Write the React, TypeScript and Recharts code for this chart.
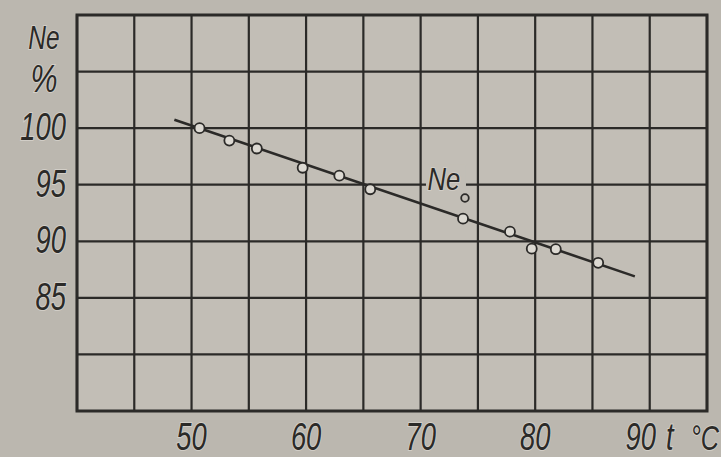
import React from "react";
import {
  ScatterChart,
  Scatter,
  XAxis,
  YAxis,
  CartesianGrid,
  ReferenceArea,
  ReferenceDot,
} from "recharts";

// measured points: temperature t (°C) and effective power Ne (%)
const tempC = [50.7, 53.3, 55.7, 59.7, 62.9, 65.6, 73.7, 77.8, 79.7, 81.8, 85.5];
const nePct = [100.0, 98.9, 98.2, 96.5, 95.8, 94.6, 92.0, 90.85, 89.35, 89.3, 88.1];

// fitted straight line
const fitT = [48.5, 88.7];
const fitNe = [100.75, 86.9];

// axes
const xTicks = [40, 45, 50, 55, 60, 65, 70, 75, 80, 85, 90, 95];
const xTickLabels = ["", "", "50", "", "60", "", "70", "", "80", "", "90", ""];
const xUnitLabels = ["t", "°C"];
const yTicks = [75, 80, 85, 90, 95, 100, 105, 110];
const yTickLabels = ["", "", "85", "90", "95", "100", "%", "Ne"];

// curve annotation
const curveLabel = { t: 72.3, ne: 94.8, main: "Ne", sub: "o" };

const points = tempC.map((t, i) => ({ t, ne: nePct[i] }));
const fitLine = fitT.map((t, i) => ({ t, ne: fitNe[i] }));

const INK = "#2b2a28";
const BG = "#bbb7af";
const PLOT_BG = "#c2beb6";
const HALO = "#d2cec7";
const FONT = "'Liberation Sans', Arial, sans-serif";

const textStyle: React.CSSProperties = {
  fontFamily: FONT,
  fontStyle: "italic",
};

const NarrowText = ({
  x,
  y,
  children,
  size,
  anchor,
  sx = 0.72,
}: {
  x: number;
  y: number;
  children: React.ReactNode;
  size: number;
  anchor: "start" | "middle" | "end";
  sx?: number;
}) => (
  <g transform={`translate(${x},${y}) scale(${sx},1)`}>
    <text
      x={0}
      y={0}
      fontSize={size}
      textAnchor={anchor}
      fill={INK}
      stroke={HALO}
      strokeWidth={2}
      paintOrder="stroke"
      style={textStyle}
    >
      {children}
    </text>
  </g>
);

const YTick = (props: any) => {
  const { x, y, payload } = props;
  const idx = yTicks.indexOf(payload.value);
  const label = idx >= 0 ? yTickLabels[idx] : "";
  if (!label) return null;
  if (label === "Ne") {
    return (
      <NarrowText x={x - 33} y={y + 34} size={34} anchor="middle">
        {label}
      </NarrowText>
    );
  }
  if (label === "%") {
    return (
      <NarrowText x={x - 33} y={y + 20} size={38} anchor="middle" sx={0.8}>
        {label}
      </NarrowText>
    );
  }
  return (
    <NarrowText x={x - 11} y={y + 12} size={38} anchor="end">
      {label}
    </NarrowText>
  );
};

const XTick = (props: any) => {
  const { x, y, payload } = props;
  const idx = xTicks.indexOf(payload.value);
  const label = idx >= 0 ? xTickLabels[idx] : "";
  if (!label) return null;
  const isLast = label === "90";
  return (
    <g>
      <NarrowText x={isLast ? x - 9 : x} y={y + 39} size={38} anchor="middle">
        {label}
      </NarrowText>
      {isLast && (
        <>
          <NarrowText x={x + 20} y={y + 39} size={38} anchor="middle">
            {xUnitLabels[0]}
          </NarrowText>
          <NarrowText x={x + 41} y={y + 39} size={36} anchor="start" sx={0.7}>
            {xUnitLabels[1]}
          </NarrowText>
        </>
      )}
    </g>
  );
};

const CurveLabel = (props: any) => {
  const { viewBox } = props;
  const cx = viewBox.x + (viewBox.width || 0) / 2;
  const cy = viewBox.y + (viewBox.height || 0) / 2;
  return (
    <g>
      <rect x={cx - 21} y={cy - 22} width={40} height={27} fill={PLOT_BG} />
      <NarrowText x={cx - 3} y={cy + 3} size={32} anchor="middle" sx={0.8}>
        {curveLabel.main}
      </NarrowText>
      <circle cx={cx + 18} cy={cy + 11} r={3.8} fill="none" stroke={INK} strokeWidth={1.8} />
    </g>
  );
};

const PointShape = (props: any) => {
  const { cx, cy } = props;
  return <circle cx={cx} cy={cy} r={5} fill="#dcd9d2" stroke={INK} strokeWidth={1.8} />;
};

const NoShape = () => <g />;

export default function App() {
  return (
    <div
      style={{
        position: "absolute",
        left: 0,
        top: 0,
        width: 721,
        height: 457,
        background: BG,
        overflow: "hidden",
      }}
    >
      <ScatterChart
        width={721}
        height={457}
        margin={{ top: 15, right: 14, bottom: 0, left: 0 }}
      >
        <CartesianGrid
          stroke={INK}
          strokeWidth={2.2}
          fill={PLOT_BG}
          fillOpacity={1}
        />
        <XAxis
          type="number"
          dataKey="t"
          domain={[40, 95]}
          ticks={xTicks}
          interval={0}
          height={46}
          tickSize={0}
          tickMargin={0}
          axisLine={false}
          tickLine={false}
          tick={<XTick />}
          allowDataOverflow
        />
        <YAxis
          type="number"
          dataKey="ne"
          domain={[75, 110]}
          ticks={yTicks}
          interval={0}
          width={77}
          tickSize={0}
          tickMargin={0}
          axisLine={false}
          tickLine={false}
          tick={<YTick />}
          allowDataOverflow
        />
        <ReferenceArea
          x1={40}
          x2={95}
          y1={75}
          y2={110}
          fill="none"
          stroke={INK}
          strokeWidth={3}
          ifOverflow="visible"
        />
        <ReferenceDot
          x={curveLabel.t}
          y={curveLabel.ne}
          r={0}
          fill="none"
          stroke="none"
          label={<CurveLabel />}
        />
        <Scatter
          data={fitLine}
          line={{ stroke: INK, strokeWidth: 2.6 }}
          shape={<NoShape />}
          isAnimationActive={false}
        />
        <Scatter data={points} shape={<PointShape />} isAnimationActive={false} />
      </ScatterChart>
    </div>
  );
}
